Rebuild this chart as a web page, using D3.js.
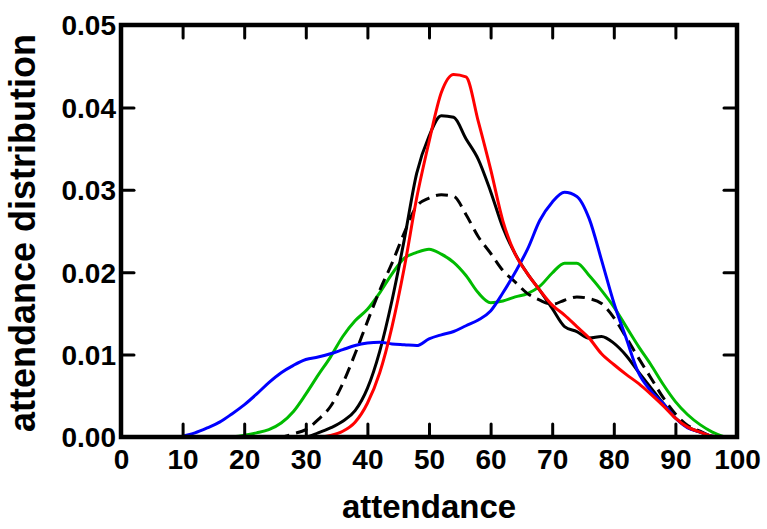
<!DOCTYPE html>
<html><head><meta charset="utf-8">
<script src="https://cdn.jsdelivr.net/npm/d3@7"></script>
<style>html,body{margin:0;padding:0;background:#fff;}svg{display:block;}</style>
</head><body>
<svg id="chart" width="767" height="529"></svg>
<script>
const attendance = [10,12,14,16,18,20,22,24,26,28,30,32,34,36,38,40,42,44,46,48,50,52,54,56,58,60,62,64,66,68,70,72,74,76,78,80,82,84,86,88,90,92,94,96,98];
const blueSeries  = [0.0001,0.0005,0.0011,0.0018,0.0028,0.0039,0.0052,0.0066,0.0078,0.0087,0.0094,0.0097,0.0101,0.0106,0.0111,0.0114,0.0115,0.0113,0.0112,0.0111,0.0119,0.0124,0.0128,0.0135,0.0142,0.0153,0.0175,0.0200,0.0228,0.0263,0.0285,0.0297,0.0292,0.0265,0.0215,0.0163,0.0120,0.0078,0.0056,0.0041,0.0023,0.0011,0.0006,0.0001,0];
const greenSeries = [0,0,0,0,0,0.0002,0.0005,0.0009,0.0017,0.0031,0.0052,0.0075,0.0097,0.0122,0.0141,0.0155,0.0175,0.0198,0.0217,0.0224,0.0228,0.0222,0.0212,0.0196,0.0175,0.0163,0.0165,0.0170,0.0174,0.0183,0.0199,0.0211,0.0211,0.0196,0.0178,0.0158,0.0134,0.0110,0.0088,0.0064,0.0043,0.0027,0.0015,0.0006,0];
const dashedSeries= [0,0,0,0,0,0,0,0,0,0.0004,0.0009,0.0021,0.0037,0.0065,0.0101,0.0140,0.0178,0.0211,0.0248,0.0280,0.0290,0.0294,0.0292,0.0270,0.0243,0.0223,0.0202,0.0188,0.0174,0.0166,0.0161,0.0166,0.0170,0.0168,0.0162,0.0145,0.0121,0.0096,0.0072,0.0048,0.0028,0.0014,0.0007,0.0001,0];
const blackSeries = [0,0,0,0,0,0,0,0,0,0,0,0.0005,0.0011,0.0019,0.0032,0.0059,0.0104,0.0166,0.0240,0.0320,0.0365,0.0390,0.0388,0.0362,0.0337,0.0298,0.0254,0.0222,0.0198,0.0178,0.0156,0.0134,0.0128,0.0120,0.0122,0.0114,0.0099,0.0079,0.0060,0.0041,0.0023,0.0012,0.0006,0.0001,0];
const redSeries   = [0,0,0,0,0,0,0,0,0,0,0,0,0.0002,0.0007,0.0018,0.0041,0.0078,0.0134,0.0206,0.0290,0.0358,0.0418,0.0440,0.0437,0.0383,0.0325,0.0262,0.0222,0.0198,0.0178,0.0160,0.0148,0.0134,0.0120,0.0101,0.0088,0.0076,0.0065,0.0052,0.0038,0.0023,0.0012,0.0006,0.0001,0];
const xTicks = [0,10,20,30,40,50,60,70,80,90,100];
const yTicks = [0,0.01,0.02,0.03,0.04,0.05];
const xTitle = "attendance";
const yTitle = "attendance distribution";

const svg = d3.select("#chart");
const m = {left:121, top:25, right:30, bottom:92};
const W = 767 - m.left - m.right, H = 529 - m.top - m.bottom;
const x = d3.scaleLinear().domain([0,100]).range([0,W]);
const y = d3.scaleLinear().domain([0,0.05]).range([H,0]);
const g = svg.append("g").attr("transform",`translate(${m.left},${m.top})`);

const series = [
  {v: greenSeries, color:"#00bb00", dash:null},
  {v: dashedSeries, color:"#000000", dash:"12,7"},
  {v: blackSeries, color:"#000000", dash:null},
  {v: blueSeries, color:"#0000ff", dash:null},
  {v: redSeries, color:"#ff0000", dash:null}
];
const line = d3.line().x(d=>x(d[0])).y(d=>y(d[1])).curve(d3.curveMonotoneX);
series.forEach(s=>{
  g.append("path").datum(attendance.map((a,i)=>[a,s.v[i]]))
    .attr("d",line).attr("fill","none").attr("stroke",s.color)
    .attr("stroke-width",3).attr("stroke-dasharray",s.dash)
    .attr("stroke-linejoin","round");
});

const tl = 13;
function styleAxis(sel){
  sel.select(".domain").remove();
  sel.selectAll(".tick line").attr("stroke","#000").attr("stroke-width",3).attr("stroke-linecap","round");
  sel.selectAll("text").attr("font-family","'Liberation Sans', Arial, sans-serif").attr("font-weight","bold").attr("font-size",28).attr("fill","#000");
}
const xb = g.append("g").attr("transform",`translate(0,${H})`)
  .call(d3.axisBottom(x).tickValues(xTicks).tickSize(-tl).tickPadding(22).tickFormat(d3.format("d")));
styleAxis(xb);
xb.selectAll("text").attr("dy","0.71em").attr("y",12);
const xt = g.append("g").call(d3.axisTop(x).tickValues(xTicks).tickSize(-tl).tickFormat(""));
styleAxis(xt);
const yl = g.append("g").call(d3.axisLeft(y).tickValues(yTicks).tickSize(-tl).tickPadding(6).tickFormat(d3.format(".2f")));
styleAxis(yl);
yl.selectAll("text").attr("x",-5).attr("dy","0.35em");
const yr = g.append("g").attr("transform",`translate(${W},0)`).call(d3.axisRight(y).tickValues(yTicks).tickSize(-tl).tickFormat(""));
styleAxis(yr);

g.append("rect").attr("x",0).attr("y",0).attr("width",W).attr("height",H)
  .attr("fill","none").attr("stroke","#000").attr("stroke-width",4.5);

svg.append("text").attr("x",m.left+W/2).attr("y",518).attr("text-anchor","middle")
  .attr("font-family","'Liberation Sans', Arial, sans-serif").attr("font-weight","bold").attr("font-size",33)
  .text(xTitle);
svg.append("text").attr("transform",`translate(35,${m.top+H/2+2}) rotate(-90)`).attr("text-anchor","middle")
  .attr("font-family","'Liberation Sans', Arial, sans-serif").attr("font-weight","bold").attr("font-size",36)
  .text(yTitle);
</script>
</body></html>
